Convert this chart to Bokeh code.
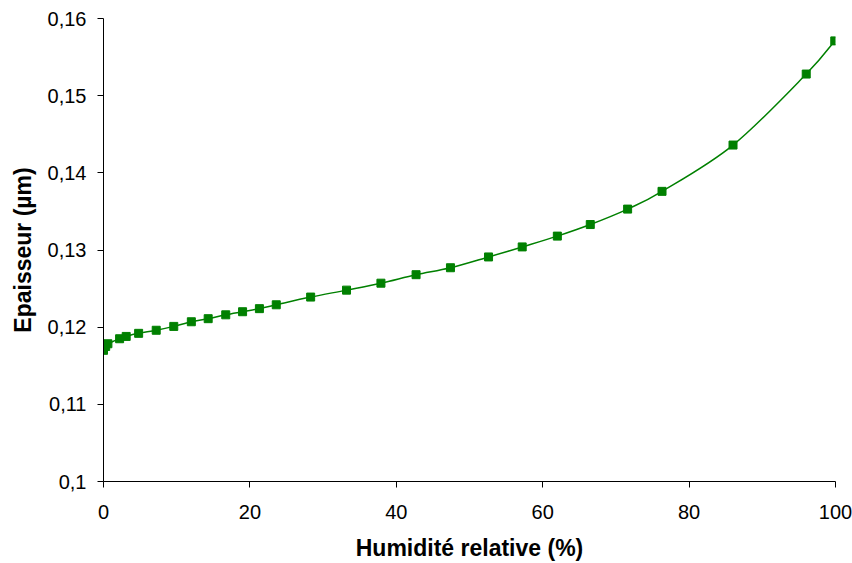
from bokeh.plotting import figure
from bokeh.models import ColumnDataSource, Range1d, FixedTicker, CustomJSTickFormatter
from bokeh.embed import file_html
from bokeh.resources import INLINE

humidite = [0.0, 0.3, 0.6, 2.2, 3.1, 4.8, 7.2, 9.6, 12.0, 14.3, 16.7, 19.0, 21.3, 23.6,
            28.3, 33.2, 37.9, 42.7, 47.4, 52.6, 57.2, 62.0, 66.5, 71.6, 76.3, 86.0, 96.0, 99.9]
epaisseur = [0.1170, 0.1175, 0.11785, 0.1185, 0.1188, 0.1192, 0.1196, 0.1201, 0.1207,
             0.1211, 0.1216, 0.1220, 0.1224, 0.1229, 0.1239, 0.1248, 0.1257, 0.1268,
             0.1277, 0.1291, 0.1304, 0.1318, 0.1333, 0.1353, 0.1376, 0.1436, 0.1528, 0.1571]
x_ticks = [0, 20, 40, 60, 80, 100]
y_ticks = [0.10, 0.11, 0.12, 0.13, 0.14, 0.15, 0.16]

src = ColumnDataSource(dict(x=humidite, y=epaisseur))

# smoothed connecting line (Catmull-Rom style Bezier segments between the data points)
n = len(humidite)
seg = dict(x0=[], y0=[], x1=[], y1=[], cx0=[], cy0=[], cx1=[], cy1=[])
for i in range(n - 1):
    a = max(i - 1, 0)
    b = min(i + 2, n - 1)
    seg["x0"].append(humidite[i]); seg["y0"].append(epaisseur[i])
    seg["x1"].append(humidite[i + 1]); seg["y1"].append(epaisseur[i + 1])
    seg["cx0"].append(humidite[i] + (humidite[i + 1] - humidite[a]) / 6)
    seg["cy0"].append(epaisseur[i] + (epaisseur[i + 1] - epaisseur[a]) / 6)
    seg["cx1"].append(humidite[i + 1] - (humidite[b] - humidite[i]) / 6)
    seg["cy1"].append(epaisseur[i + 1] - (epaisseur[b] - epaisseur[i]) / 6)
seg_src = ColumnDataSource(seg)

p = figure(width=852, height=563, output_backend="svg", toolbar_location=None,
           x_range=Range1d(0, 100), y_range=Range1d(0.1, 0.16),
           min_border_left=103, min_border_right=17, min_border_top=18, min_border_bottom=82)
p.outline_line_color = None
p.xgrid.visible = False
p.ygrid.visible = False
p.background_fill_color = "white"

green = "#008000"
p.bezier(x0="x0", y0="y0", x1="x1", y1="y1", cx0="cx0", cy0="cy0", cx1="cx1", cy1="cy1",
         source=seg_src, line_color=green, line_width=1.5)
p.scatter("x", "y", source=src, marker="square", size=8, fill_color=green, line_color=green)

font = "Liberation Sans"
p.xaxis.ticker = FixedTicker(ticks=x_ticks)
p.yaxis.ticker = FixedTicker(ticks=y_ticks)
p.yaxis.formatter = CustomJSTickFormatter(code="""
var s = tick.toFixed(2);
if (s.endsWith('0')) { s = s.slice(0, -1); }
return s.replace('.', ',');
""")
for ax in (p.xaxis, p.yaxis):
    ax.axis_line_color = "black"
    ax.axis_line_width = 1
    ax.major_tick_line_color = "black"
    ax.major_tick_in = 0
    ax.major_tick_out = 6
    ax.minor_tick_line_color = None
    ax.major_label_text_font = font
    ax.major_label_text_font_size = "20px"
    ax.major_label_text_color = "black"
    ax.axis_label_text_font = font
    ax.axis_label_text_font_size = "23px"
    ax.axis_label_text_font_style = "bold"
    ax.axis_label_text_color = "black"

p.xaxis.axis_label = "Humidité relative (%)"
p.yaxis.axis_label = "Epaisseur (µm)"
p.xaxis.major_label_standoff = 17
p.yaxis.major_label_standoff = 11
p.xaxis.axis_label_standoff = 13
p.yaxis.axis_label_standoff = 9

open("out.html", "w").write(file_html(p, INLINE))
